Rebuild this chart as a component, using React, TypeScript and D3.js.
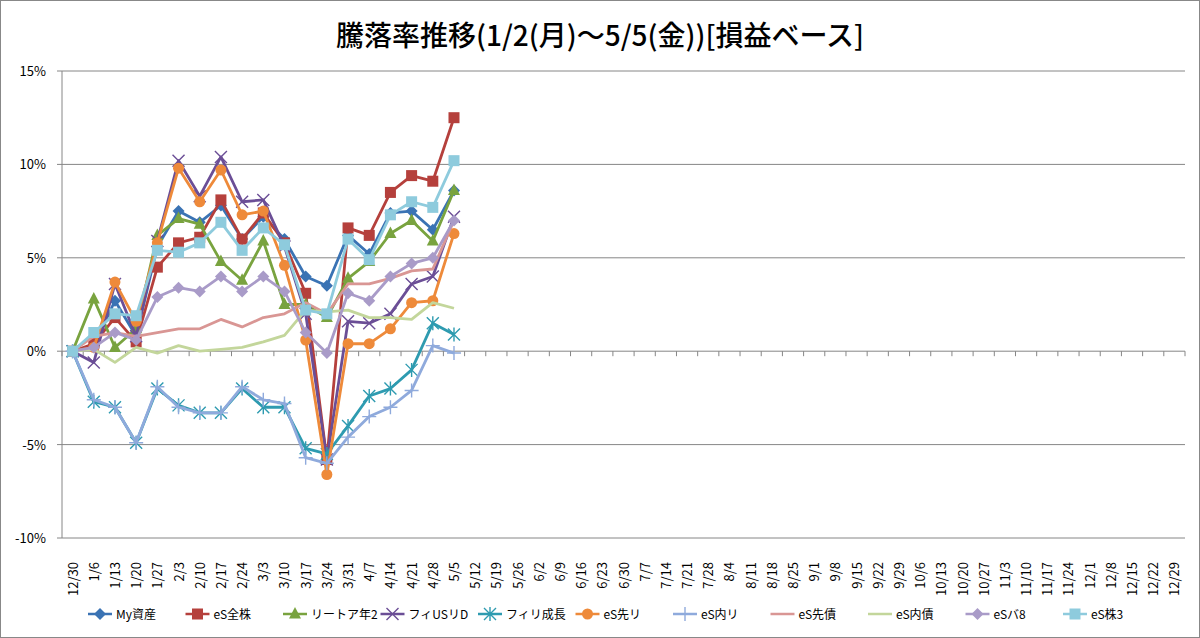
import React from "react";
import * as d3 from "d3";

const weeks = ["12/30","1/6","1/13","1/20","1/27","2/3","2/10","2/17","2/24","3/3","3/10","3/17","3/24","3/31","4/7","4/14","4/21","4/28","5/5","5/12","5/19","5/26","6/2","6/9","6/16","6/23","6/30","7/7","7/14","7/21","7/28","8/4","8/11","8/18","8/25","9/1","9/8","9/15","9/22","9/29","10/6","10/13","10/20","10/27","11/3","11/10","11/17","11/24","12/1","12/8","12/15","12/22","12/29"];
const yTicks = [-10, -5, 0, 5, 10, 15];

const myAsset = [0,0.3,2.7,0.8,5.6,7.5,6.9,7.8,6.0,7.2,6.0,4.0,3.5,6.2,5.2,7.4,7.5,6.5,8.6];
const esAll = [0,0.4,1.8,0.5,4.5,5.8,6.1,8.1,6.0,7.4,5.8,3.1,-5.8,6.6,6.2,8.5,9.4,9.1,12.5];
const reit2 = [0,2.8,0.2,1.2,6.2,7.1,6.8,4.8,3.8,5.9,2.5,2.5,1.8,3.9,4.8,6.3,7.0,5.9,8.6];
const fiUsReit = [0,-0.6,3.6,0.8,5.9,10.2,8.3,10.4,8.0,8.1,5.6,2.0,-5.8,1.6,1.5,2.0,3.6,4.0,7.2];
const fiGrowth = [0,-2.7,-3.0,-4.9,-2.0,-2.9,-3.3,-3.3,-2.0,-3.0,-3.0,-5.2,-5.5,-4.0,-2.4,-2.0,-1.0,1.5,0.9];
const esFwdReit = [0,0.2,3.7,1.6,5.8,9.8,8.0,9.7,7.3,7.5,4.6,0.6,-6.6,0.4,0.4,1.2,2.6,2.7,6.3];
const esDomReit = [0,-2.6,-3.0,-4.9,-1.9,-3.0,-3.3,-3.3,-1.9,-2.6,-2.8,-5.7,-6.0,-4.6,-3.5,-3.0,-2.1,0.3,-0.1];
const esFwdBond = [0,0.8,1.0,0.8,1.0,1.2,1.2,1.7,1.3,1.8,2.0,2.6,2.0,3.6,3.6,3.9,4.3,4.4,7.0];
const esDomBond = [0,0.1,-0.6,0.2,-0.1,0.3,0.0,0.1,0.2,0.5,0.85,2.2,2.1,2.2,1.8,1.8,1.7,2.6,2.3];
const esBal8 = [0,0.2,1.0,0.6,2.9,3.4,3.2,4.0,3.2,4.0,3.2,1.0,-0.1,3.1,2.7,4.0,4.7,5.0,7.0];
const esStock3 = [0,1.0,2.0,1.9,5.4,5.3,5.8,6.9,5.4,6.6,5.7,2.2,2.0,6.0,4.9,7.3,8.0,7.7,10.2];

type Marker = "diamond" | "square" | "triangle" | "x" | "star" | "circle" | "plus" | "none";
const series: { name: string; values: number[]; color: string; marker: Marker }[] = [
  { name: "My資産", values: myAsset, color: "#3A73B4", marker: "diamond" },
  { name: "eS全株", values: esAll, color: "#B5403C", marker: "square" },
  { name: "リートア年2", values: reit2, color: "#79A33F", marker: "triangle" },
  { name: "フィUSリD", values: fiUsReit, color: "#6B4E96", marker: "x" },
  { name: "フィリ成長", values: fiGrowth, color: "#2E9BB0", marker: "star" },
  { name: "eS先リ", values: esFwdReit, color: "#EE8A3A", marker: "circle" },
  { name: "eS内リ", values: esDomReit, color: "#8FAADC", marker: "plus" },
  { name: "eS先債", values: esFwdBond, color: "#D99694", marker: "none" },
  { name: "eS内債", values: esDomBond, color: "#C3D69B", marker: "none" },
  { name: "eSバ8", values: esBal8, color: "#A99BC8", marker: "diamond" },
  { name: "eS株3", values: esStock3, color: "#8ECBDD", marker: "square" },
];

const W = 1200, H = 638;
const plot = { left: 62, right: 1185, top: 71, bottom: 538 };

function MarkerShape({ m, x, y, c }: { m: Marker; x: number; y: number; c: string }) {
  const s = 6;
  switch (m) {
    case "diamond": return <path d={`M${x},${y - s}L${x + s},${y}L${x},${y + s}L${x - s},${y}Z`} fill={c} />;
    case "square": return <rect x={x - 5.5} y={y - 5.5} width={11} height={11} fill={c} />;
    case "triangle": return <path d={`M${x},${y - 7}L${x + 6},${y + 4.5}L${x - 6},${y + 4.5}Z`} fill={c} />;
    case "circle": return <circle cx={x} cy={y} r={5.5} fill={c} />;
    case "x": return <path d={`M${x - 6},${y - 6}L${x + 6},${y + 6}M${x - 6},${y + 6}L${x + 6},${y - 6}`} stroke={c} strokeWidth={1.4} />;
    case "plus": return <path d={`M${x - 7},${y}L${x + 7},${y}M${x},${y - 7}L${x},${y + 7}`} stroke={c} strokeWidth={1.4} />;
    case "star": return <path d={`M${x - 6},${y - 6}L${x + 6},${y + 6}M${x - 6},${y + 6}L${x + 6},${y - 6}M${x},${y - 7}L${x},${y + 7}`} stroke={c} strokeWidth={1.4} />;
    default: return null;
  }
}

export default function App() {
  const x = d3.scaleBand().domain(weeks).range([plot.left, plot.right]);
  const y = d3.scaleLinear().domain([-10, 15]).range([plot.bottom, plot.top]);
  const cx = (i: number) => (x(weeks[i]) as number) + x.bandwidth() / 2;
  const line = d3.line<number>().x((_, i) => cx(i)).y((v) => y(v));
  const font = "'Noto Sans CJK JP', sans-serif";

  return (
    <svg width={W} height={H} style={{ position: "absolute", left: 0, top: 0 }} fontFamily={font}>
      <rect x={0.5} y={0.5} width={W - 1} height={H - 1} fill="white" stroke="#888" />
      <text x={600} y={46} textAnchor="middle" fontSize={28} fontWeight="500">
        騰落率推移(1/2(月)～5/5(金))[損益ベース]
      </text>
      {yTicks.map((t) => (
        <g key={t}>
          {t !== 0 && <line x1={plot.left} x2={plot.right} y1={y(t)} y2={y(t)} stroke="#868686" strokeWidth={1} />}
          <text x={46} y={y(t) + 5} textAnchor="end" fontSize={13}>{t}%</text>
          <line x1={plot.left - 5} x2={plot.left} y1={y(t)} y2={y(t)} stroke="#868686" />
        </g>
      ))}
      <line x1={plot.left} x2={plot.left} y1={plot.top} y2={plot.bottom} stroke="#868686" />
      <line x1={plot.left} x2={plot.right} y1={y(0)} y2={y(0)} stroke="#868686" />
      {weeks.map((w, i) => (
        <g key={w}>
          <line x1={plot.left + i * x.step()} x2={plot.left + i * x.step()} y1={y(0)} y2={y(0) + 5} stroke="#868686" />
          <text transform={`translate(${cx(i) + 5},${562}) rotate(-90)`} textAnchor="end" fontSize={13}>{w}</text>
        </g>
      ))}
      <line x1={plot.right} x2={plot.right} y1={y(0)} y2={y(0) + 5} stroke="#868686" />
      {series.map((s) => (
        <g key={s.name}>
          <path d={line(s.values) || ""} fill="none" stroke={s.color} strokeWidth={2.8} strokeLinejoin="round" />
          {s.values.map((v, i) => <MarkerShape key={i} m={s.marker} x={cx(i)} y={y(v)} c={s.color} />)}
        </g>
      ))}
      {series.map((s, i) => {
        const lx = 88 + i * 97.5;
        return (
          <g key={s.name}>
            <line x1={lx} x2={lx + 24} y1={614} y2={614} stroke={s.color} strokeWidth={2.5} />
            <MarkerShape m={s.marker} x={lx + 12} y={614} c={s.color} />
            <text x={lx + 28} y={619} fontSize={12}>{s.name}</text>
          </g>
        );
      })}
    </svg>
  );
}
